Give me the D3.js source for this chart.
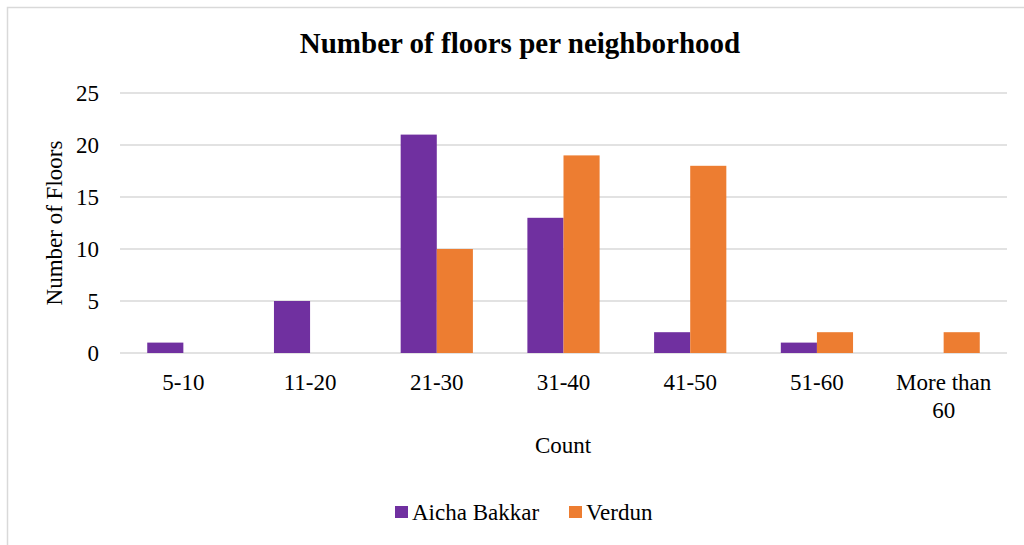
<!DOCTYPE html>
<html>
<head>
<meta charset="utf-8">
<script src="https://cdn.jsdelivr.net/npm/d3@7"></script>
<style>
  body { margin: 0; background: #fff; }
  svg text { font-family: "Liberation Serif", "Times New Roman", serif !important; fill: #000; }
</style>
</head>
<body>
<div id="chart"></div>
<script>
// data
var categories = ["5-10", "11-20", "21-30", "31-40", "41-50", "51-60", "More than 60"]
var seriesNames = ["Aicha Bakkar", "Verdun"]
var aichaBakkar = [1, 5, 21, 13, 2, 1, 0]
var verdun = [0, 0, 10, 19, 18, 2, 2]
var yTicks = [0, 5, 10, 15, 20, 25]
var colors = ["#7030A0", "#ED7D31"]

var width = 1024
    height = 545
    margin = {left: 120, right: 17, top: 93, bottom: 192}

var svg = d3.select("#chart")
  .append("svg")
    .attr("width", width)
    .attr("height", height)

// outer chart frame (runs off the right and bottom edges)
svg.append("rect")
  .attr("x", 7.5).attr("y", 7.5)
  .attr("width", width).attr("height", height)
  .attr("fill", "#fff")
  .attr("stroke", "#d9d9d9")
  .attr("stroke-width", 1.5)

var x = d3.scaleBand()
  .domain(categories)
  .range([margin.left, width - margin.right])
  .paddingInner(0.43)
  .paddingOuter(0.215)

var xSub = d3.scaleBand()
  .domain(seriesNames)
  .range([0, x.bandwidth()])

var y = d3.scaleLinear()
  .domain([0, 25])
  .range([height - margin.bottom, margin.top])

// gridlines
svg.append("g")
  .selectAll("line")
  .data(yTicks)
  .enter()
  .append("line")
    .attr("x1", margin.left)
    .attr("x2", width - margin.right)
    .attr("y1", function(d) { return y(d) })
    .attr("y2", function(d) { return y(d) })
    .attr("stroke", "#d9d9d9")
    .attr("stroke-width", 1.5)

// y axis labels
var yAxis = svg.append("g")
  .attr("transform", "translate(" + (margin.left - 21) + ",0)")
  .call(d3.axisLeft(y).tickValues(yTicks).tickSize(0).tickPadding(0))
yAxis.attr("font-family", null)
yAxis.select(".domain").remove()
yAxis.selectAll("text")
  .style("font-size", "23px")

// bars
var rows = categories.map(function(c, i) {
  return {cat: c, values: [aichaBakkar[i], verdun[i]]}
})

svg.append("g")
  .selectAll("g")
  .data(rows)
  .enter()
  .append("g")
    .attr("transform", function(d) { return "translate(" + x(d.cat) + ",0)" })
  .selectAll("rect")
  .data(function(d) { return d.values.map(function(v, j) { return {name: seriesNames[j], value: v, color: colors[j]} }) })
  .enter()
  .filter(function(d) { return d.value > 0 })
  .append("rect")
    .attr("x", function(d) { return xSub(d.name) })
    .attr("width", xSub.bandwidth())
    .attr("y", function(d) { return y(d.value) })
    .attr("height", function(d) { return y(0) - y(d.value) })
    .attr("fill", function(d) { return d.color })

// x category labels, wrapping "More than 60" like the original
var xLabels = svg.append("g")
  .selectAll("text")
  .data(categories)
  .enter()
  .append("text")
    .attr("text-anchor", "middle")
    .style("font-size", "23px")
    .attr("transform", function(d) { return "translate(" + (x(d) + x.bandwidth() / 2) + ",390)" })

xLabels.each(function(d) {
  var lines = d === "More than 60" ? ["More than", "60"] : [d]
  d3.select(this).selectAll("tspan")
    .data(lines)
    .enter()
    .append("tspan")
      .attr("x", 0)
      .attr("y", function(l, i) { return i * 28 })
      .text(function(l) { return l })
})

// title
svg.append("text")
  .attr("x", 520).attr("y", 53)
  .attr("text-anchor", "middle")
  .style("font-size", "29px")
  .style("font-weight", "bold")
  .text("Number of floors per neighborhood")

// axis titles
svg.append("text")
  .attr("transform", "translate(62,223) rotate(-90)")
  .attr("text-anchor", "middle")
  .style("font-size", "23px")
  .text("Number of Floors")

svg.append("text")
  .attr("x", 563).attr("y", 453)
  .attr("text-anchor", "middle")
  .style("font-size", "23px")
  .text("Count")

// legend
var legend = svg.append("g")
  .selectAll("g")
  .data(seriesNames)
  .enter()
  .append("g")
    .attr("transform", function(d, i) { return "translate(" + [395, 569][i] + ",0)" })

legend.append("rect")
  .attr("x", 0).attr("y", 506)
  .attr("width", 13).attr("height", 12)
  .attr("fill", function(d, i) { return colors[i] })

legend.append("text")
  .attr("x", 17).attr("y", 520)
  .style("font-size", "23px")
  .text(function(d) { return d })
</script>
</body>
</html>
